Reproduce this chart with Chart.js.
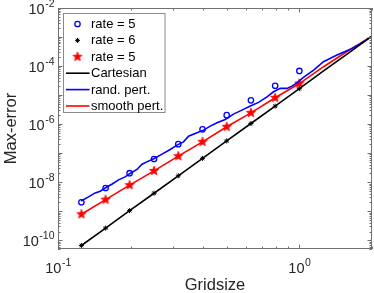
<!DOCTYPE html>
<html>
<head>
<meta charset="utf-8">
<script src="https://cdn.jsdelivr.net/npm/chart.js@4.4.1/dist/chart.umd.min.js"></script>
<style>
  html, body { margin: 0; padding: 0; background: #fff; }
</style>
</head>
<body>
<canvas id="errChart" width="374" height="293"></canvas>
<script>
// grid sizes where the reference-rate markers sit
var gridMarks = [0.125, 0.1575, 0.198, 0.25, 0.315, 0.397, 0.5, 0.63, 0.794, 1.0];
var rate5Blue = [2.04e-9, 6.3e-9, 2.04e-8, 6.3e-8, 2.04e-7, 6.6e-7, 2.04e-6, 6.6e-6, 2.1e-5, 6.8e-5];
var rate6Black = [6.6e-11, 2.63e-10, 1.05e-9, 4.17e-9, 1.66e-8, 6.6e-8, 2.63e-7, 1.05e-6, 4.17e-6, 1.66e-5];
var rate5Red = [7.9e-10, 2.5e-9, 7.9e-9, 2.45e-8, 7.9e-8, 2.45e-7, 8.1e-7, 2.45e-6, 8.1e-6, 2.5e-5];

// error curves
var gridLine = [0.125, 0.1575, 0.198, 0.25, 0.315, 0.397, 0.5, 0.63, 0.794, 1.0, 1.26, 1.587, 2.0];
var errCart = [6.6e-11, 2.63e-10, 1.05e-9, 4.17e-9, 1.66e-8, 6.6e-8, 2.63e-7, 1.05e-6, 4.17e-6, 1.66e-5, 6.8e-5, 2.7e-4, 1.08e-3];
var errSmooth = [7.9e-10, 2.5e-9, 7.9e-9, 2.45e-8, 7.9e-8, 2.45e-7, 8.1e-7, 2.45e-6, 8.1e-6, 2.5e-5, 9.5e-5, 3.3e-4, 1.08e-3];

var gridRand = [0.1247, 0.1337, 0.1426, 0.1496, 0.1581, 0.1671, 0.1782, 0.1897, 0.1991, 0.2123,
  0.2228, 0.2333, 0.2506, 0.2698, 0.2917, 0.3112, 0.3311, 0.3475, 0.3767, 0.4009,
  0.4276, 0.456, 0.4932, 0.5333, 0.5781, 0.6266, 0.6776, 0.7345, 0.7816, 0.8337,
  0.8892, 0.9311, 0.9772, 1.04, 1.146, 1.259, 1.432, 1.626, 1.786, 2.0];
var errRand = [2.26e-9, 3.11e-9, 4.28e-9, 4.9e-9, 6.56e-9, 8.53e-9, 1.2e-8, 1.52e-8, 2.0e-8, 2.74e-8,
  4.18e-8, 5.01e-8, 6.56e-8, 9.25e-8, 1.34e-7, 1.89e-7, 2.45e-7, 3.85e-7, 5.01e-7, 6.21e-7,
  8.53e-7, 1.11e-6, 1.45e-6, 2.21e-6, 3.04e-6, 4.18e-6, 5.6e-6, 8.73e-6, 1.3e-5, 1.7e-5,
  1.7e-5, 2.04e-5, 2.65e-5, 4.07e-5, 7.28e-5, 1.41e-4, 2.39e-4, 3.77e-4, 5.74e-4, 1.08e-3];

// tick labels (10^exp)
var xTicks = [0.1, 1];
var xTickExp = ['-1', '0'];
var yTicks = [1e-10, 1e-8, 1e-6, 1e-4, 1e-2];
var yTickExp = ['-10', '-8', '-6', '-4', '-2'];

var legendLabels = ['rate = 5', 'rate = 6', 'rate = 5', 'Cartesian', 'rand. pert.', 'smooth pert.'];

var FONT = '"Liberation Sans", Arial, Helvetica, sans-serif';

function pts(xs, ys) {
  return xs.map(function (x, i) { return { x: x, y: ys[i] }; });
}

// filled pentagram used as point style
function pentagram(r, color) {
  var s = Math.ceil(r * 2 + 2);
  var c = document.createElement('canvas');
  c.width = s; c.height = s;
  var g = c.getContext('2d');
  g.beginPath();
  for (var i = 0; i < 10; i++) {
    var rad = i % 2 === 0 ? r : r * 0.42;
    var a = -Math.PI / 2 + i * Math.PI / 5;
    var px = s / 2 + rad * Math.cos(a), py = s / 2 + rad * Math.sin(a);
    if (i === 0) g.moveTo(px, py); else g.lineTo(px, py);
  }
  g.closePath();
  g.fillStyle = color;
  g.fill();
  g.strokeStyle = color;
  g.lineWidth = 0.8;
  g.stroke();
  return c;
}
var redStar = pentagram(4.8, '#ff0000');

function drawAsterisk(ctx, x, y, r) {
  ctx.beginPath();
  ctx.moveTo(x - r, y); ctx.lineTo(x + r, y);
  ctx.moveTo(x, y - r); ctx.lineTo(x, y + r);
  var d = r * 0.707;
  ctx.moveTo(x - d, y - d); ctx.lineTo(x + d, y + d);
  ctx.moveTo(x - d, y + d); ctx.lineTo(x + d, y - d);
  ctx.stroke();
}

function drawPow(ctx, exp, x, y, align) {
  ctx.font = '14.5px ' + FONT;
  var w1 = ctx.measureText('10').width;
  ctx.font = '10.5px ' + FONT;
  var w2 = ctx.measureText(exp).width;
  var x0 = align === 'right' ? x - w1 - w2 : x - (w1 + w2) / 2;
  ctx.textAlign = 'left';
  ctx.textBaseline = 'alphabetic';
  ctx.font = '14.5px ' + FONT;
  ctx.fillText('10', x0, y);
  ctx.font = '10.5px ' + FONT;
  ctx.fillText(exp, x0 + w1 + 0.5, y - 7);
}

var matlabAxes = {
  id: 'matlabAxes',
  afterDatasetsDraw: function (chart) {
    var ctx = chart.ctx, a = chart.chartArea;
    var xs = chart.scales.x, ys = chart.scales.y;
    ctx.save();
    ctx.strokeStyle = '#707070';
    ctx.lineWidth = 1;
    ctx.beginPath();
    // x ticks (bottom and top)
    [0.1, 1].forEach(function (dec) {
      for (var k = 1; k <= 9; k++) {
        var v = k * dec;
        if (v < xs.min || v > xs.max) continue;
        var px = Math.round(xs.getPixelForValue(v)) + 0.5;
        var len = k === 1 ? 4.5 : 2.5;
        ctx.moveTo(px, a.bottom); ctx.lineTo(px, a.bottom - len);
        ctx.moveTo(px, a.top); ctx.lineTo(px, a.top + len);
      }
    });
    // y ticks (left and right)
    for (var e = -11; e <= -2; e++) {
      for (var k = 1; k <= 9; k++) {
        var v = k * Math.pow(10, e);
        if (v < ys.min * 0.999 || v > ys.max * 1.001) continue;
        var py = Math.round(ys.getPixelForValue(v)) + 0.5;
        var len = k === 1 ? 4.5 : 2.5;
        ctx.moveTo(a.left, py); ctx.lineTo(a.left + len, py);
        ctx.moveTo(a.right, py); ctx.lineTo(a.right - len, py);
      }
    }
    ctx.stroke();
    ctx.strokeRect(a.left + 0.5, a.top + 0.5, a.right - a.left - 1, a.bottom - a.top - 1);
    ctx.restore();
  },
  afterDraw: function (chart) {
    var ctx = chart.ctx, a = chart.chartArea;
    var xs = chart.scales.x, ys = chart.scales.y;
    ctx.save();
    ctx.fillStyle = '#262626';
    yTicks.forEach(function (v, i) {
      drawPow(ctx, yTickExp[i], a.left - 4, ys.getPixelForValue(v) + 5.5, 'right');
    });
    xTicks.forEach(function (v, i) {
      drawPow(ctx, xTickExp[i], xs.getPixelForValue(v), 273, 'center');
    });
    // axis titles
    ctx.font = '16.5px ' + FONT;
    ctx.textAlign = 'center';
    ctx.textBaseline = 'alphabetic';
    ctx.fillText('Gridsize', (a.left + a.right) / 2, 290);
    ctx.translate(16, (a.top + a.bottom) / 2);
    ctx.rotate(-Math.PI / 2);
    ctx.fillText('Max-error', 0, 0);
    ctx.restore();

    // legend
    ctx.save();
    var bx = 63.5, by = 13.5, bw = 101.5, bh = 99;
    ctx.fillStyle = '#ffffff';
    ctx.fillRect(bx, by, bw, bh);
    ctx.strokeStyle = '#8a8a8a';
    ctx.lineWidth = 1;
    ctx.strokeRect(bx, by, bw, bh);
    var ds = chart.data.datasets;
    for (var i = 0; i < legendLabels.length; i++) {
      var ry = 24 + i * 16.4;
      var d = ds[i];
      if (i === 0) {
        ctx.strokeStyle = '#0000ff'; ctx.lineWidth = 1.3;
        ctx.beginPath(); ctx.arc(77.5, ry, 2.7, 0, Math.PI * 2); ctx.stroke();
      } else if (i === 1) {
        ctx.strokeStyle = '#000'; ctx.lineWidth = 1;
        drawAsterisk(ctx, 77.5, ry, 2.5);
      } else if (i === 2) {
        ctx.drawImage(redStar, 77.5 - redStar.width / 2, ry - redStar.height / 2);
      } else {
        ctx.strokeStyle = d.borderColor; ctx.lineWidth = d.borderWidth;
        ctx.beginPath(); ctx.moveTo(66, ry); ctx.lineTo(89.5, ry); ctx.stroke();
      }
      ctx.fillStyle = '#000';
      ctx.font = '13px ' + FONT;
      ctx.textAlign = 'left';
      ctx.textBaseline = 'middle';
      ctx.fillText(legendLabels[i], 91, ry + 0.5);
    }
    ctx.restore();
  }
};

var ctx = document.getElementById('errChart').getContext('2d');
var myChart = new Chart(ctx, {
  type: 'scatter',
  data: {
    datasets: [{
      label: legendLabels[0],
      data: pts(gridMarks, rate5Blue),
      showLine: false,
      pointStyle: 'circle',
      pointRadius: 2.7,
      pointBorderWidth: 1.3,
      pointBorderColor: '#0000ff',
      pointBackgroundColor: 'rgba(0,0,0,0)',
      order: 1
    }, {
      label: legendLabels[1],
      data: pts(gridMarks, rate6Black),
      showLine: false,
      pointStyle: 'star',
      pointRadius: 2.5,
      pointBorderWidth: 1,
      pointBorderColor: '#000000',
      pointBackgroundColor: '#000000',
      order: 1
    }, {
      label: legendLabels[2],
      data: pts(gridMarks, rate5Red),
      showLine: false,
      pointStyle: redStar,
      pointRadius: 5,
      order: 1
    }, {
      label: legendLabels[3],
      data: pts(gridLine, errCart),
      showLine: true,
      borderColor: '#000000',
      borderWidth: 1.6,
      pointRadius: 0,
      tension: 0,
      order: 0
    }, {
      label: legendLabels[4],
      data: pts(gridRand, errRand),
      showLine: true,
      borderColor: '#0000ff',
      borderWidth: 1.6,
      pointRadius: 0,
      tension: 0,
      order: 0
    }, {
      label: legendLabels[5],
      data: pts(gridLine, errSmooth),
      showLine: true,
      borderColor: '#ff0000',
      borderWidth: 1.6,
      pointRadius: 0,
      tension: 0,
      order: 0
    }]
  },
  options: {
    responsive: false,
    animation: false,
    events: [],
    layout: { autoPadding: false, padding: { left: 58, top: 8, right: 2, bottom: 44 } },
    scales: {
      x: { type: 'logarithmic', min: 0.1, max: 2, display: false },
      y: { type: 'logarithmic', min: 5e-11, max: 1e-2, display: false }
    },
    plugins: {
      legend: { display: false },
      tooltip: { enabled: false }
    }
  },
  plugins: [matlabAxes]
});
</script>
</body>
</html>
